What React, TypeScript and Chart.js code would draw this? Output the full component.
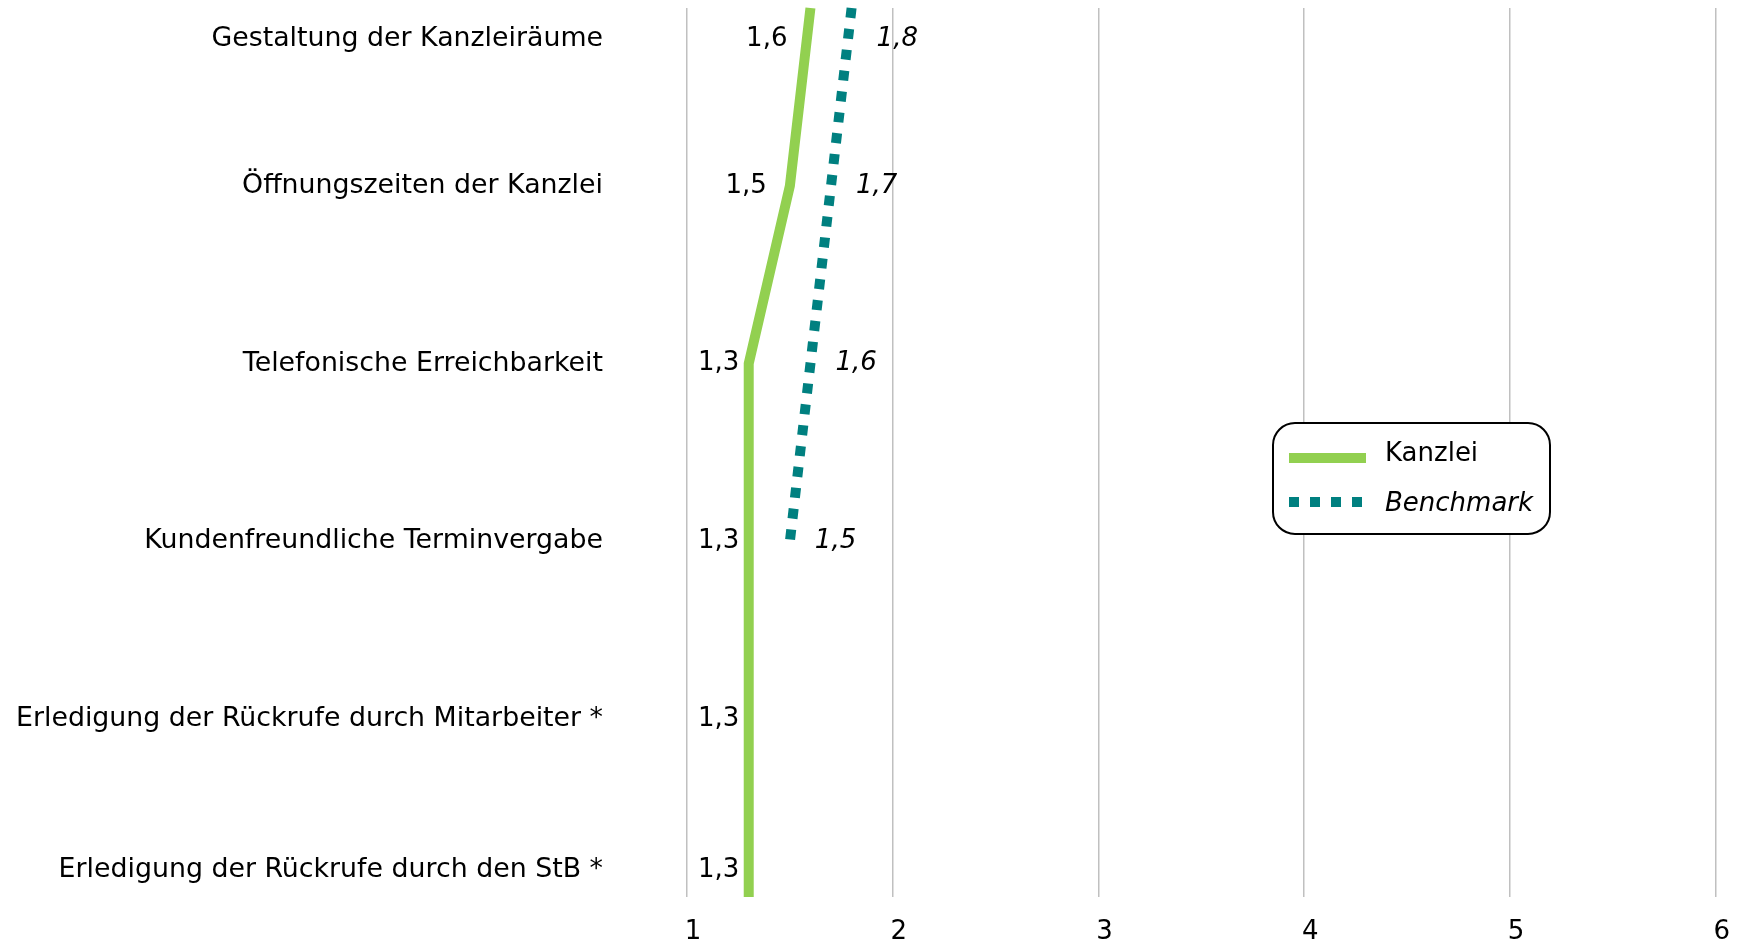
import React, { useEffect, useRef } from "react";
import { Chart, registerables } from "chart.js";

Chart.register(...registerables);

const categories = [
  "Gestaltung der Kanzleiräume",
  "Öffnungszeiten der Kanzlei",
  "Telefonische Erreichbarkeit",
  "Kundenfreundliche Terminvergabe",
  "Erledigung der Rückrufe durch Mitarbeiter *",
  "Erledigung der Rückrufe durch den StB *",
];
const kanzleiValues = [1.6, 1.5, 1.3, 1.3, 1.3, 1.3];
const benchmarkValues: (number | null)[] = [1.8, 1.7, 1.6, 1.5, null, null];
const xTicks = [1, 2, 3, 4, 5, 6];
const seriesNames = ["Kanzlei", "Benchmark"];

const GREEN = "#92D050";
const TEAL = "#008080";
const FONT = "'DejaVu Sans', Verdana, sans-serif";

const fmt = (v: number) => v.toFixed(1).replace(".", ",");

const labelPlugin = {
  id: "customLabels",
  afterDraw(chart: any) {
    const ctx = chart.ctx;
    const y = chart.scales.y;
    const x = chart.scales.x;
    const area = chart.chartArea;
    ctx.save();
    ctx.fillStyle = "#000";
    ctx.textBaseline = "middle";
    const ly = (i: number) =>
      Math.min(Math.max(y.getPixelForValue(i), area.top + 31), area.bottom - 27);
    categories.forEach((c, i) => {
      const py = ly(i);
      ctx.font = `26.8px ${FONT}`;
      ctx.textAlign = "right";
      ctx.fillText(c, 603, py);
      const kv = kanzleiValues[i];
      if (kv != null) {
        ctx.font = `26px ${FONT}`;
        ctx.textAlign = "left";
        const s = fmt(kv);
        const w = ctx.measureText(s).width;
        const left = Math.max(x.getPixelForValue(kv) - 23 - w, area.left + 11);
        ctx.fillText(s, left, py);
      }
      const bv = benchmarkValues[i];
      if (bv != null) {
        ctx.font = `italic 26px ${FONT}`;
        ctx.textAlign = "left";
        ctx.fillText(fmt(bv), x.getPixelForValue(bv) + 25, py);
      }
    });

    // legend
    const bx = 1273, by = 423, bw = 277, bh = 111, r = 22;
    ctx.beginPath();
    ctx.moveTo(bx + r, by);
    ctx.arcTo(bx + bw, by, bx + bw, by + bh, r);
    ctx.arcTo(bx + bw, by + bh, bx, by + bh, r);
    ctx.arcTo(bx, by + bh, bx, by, r);
    ctx.arcTo(bx, by, bx + bw, by, r);
    ctx.closePath();
    ctx.fillStyle = "#fff";
    ctx.fill();
    ctx.lineWidth = 2;
    ctx.strokeStyle = "#000";
    ctx.stroke();

    ctx.lineCap = "butt";
    ctx.beginPath();
    ctx.strokeStyle = GREEN;
    ctx.lineWidth = 10;
    ctx.moveTo(1289, 458);
    ctx.lineTo(1366, 458);
    ctx.stroke();

    ctx.beginPath();
    ctx.strokeStyle = TEAL;
    ctx.lineWidth = 10;
    ctx.setLineDash([10, 11]);
    ctx.moveTo(1289, 502);
    ctx.lineTo(1362, 502);
    ctx.stroke();
    ctx.setLineDash([]);

    ctx.fillStyle = "#000";
    ctx.textAlign = "left";
    ctx.font = `26px ${FONT}`;
    ctx.fillText(seriesNames[0], 1385, 454);
    ctx.font = `italic 26px ${FONT}`;
    ctx.fillText(seriesNames[1], 1385, 504);
    ctx.restore();
  },
};

export default function App() {
  const ref = useRef<HTMLCanvasElement>(null);
  useEffect(() => {
    if (!ref.current) return;
    const chart = new Chart(ref.current, {
      type: "line",
      data: {
        labels: categories,
        datasets: [
          {
            label: seriesNames[0],
            data: kanzleiValues,
            borderColor: GREEN,
            backgroundColor: GREEN,
            borderWidth: 10,
            pointRadius: 0,
            tension: 0,
            borderCapStyle: "butt",
            borderJoinStyle: "miter",
          },
          {
            label: seriesNames[1],
            data: benchmarkValues,
            borderColor: TEAL,
            backgroundColor: TEAL,
            borderWidth: 10,
            borderDash: [10, 11],
            pointRadius: 0,
            tension: 0,
            borderCapStyle: "butt",
            spanGaps: false,
          },
        ],
      },
      options: {
        indexAxis: "y",
        responsive: false,
        animation: false,
        maintainAspectRatio: false,
        layout: { padding: { left: 687, right: 27, top: 8, bottom: 0 } },
        plugins: {
          legend: { display: false },
          tooltip: { enabled: false },
        },
        scales: {
          y: {
            type: "category",
            display: false,
            offset: false,
          },
          x: {
            type: "linear",
            min: xTicks[0],
            max: xTicks[xTicks.length - 1],
            afterFit: (s: any) => {
              s.height = 45;
            },
            afterBuildTicks: (s: any) => {
              s.ticks = xTicks.map((v) => ({ value: v }));
            },
            ticks: {
              stepSize: 1,
              color: "#000",
              font: { family: FONT, size: 26 },
              padding: 20,
              labelOffset: 6,
            },
            grid: {
              color: "#C0C0C0",
              lineWidth: 1.5,
              drawTicks: false,
            },
            border: { display: false },
          },
        },
      },
      plugins: [labelPlugin],
    } as any);
    return () => chart.destroy();
  }, []);
  return (
    <div style={{ position: "absolute", left: 0, top: 0, width: 1744, height: 942 }}>
      <canvas ref={ref} width={1744} height={942} />
    </div>
  );
}
